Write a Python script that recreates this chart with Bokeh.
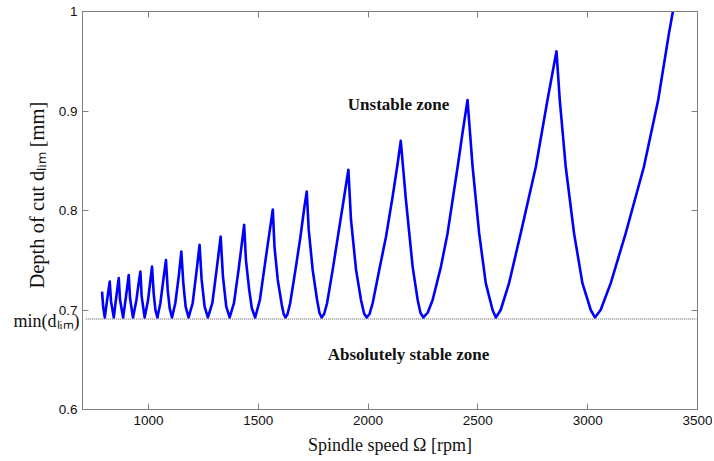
from bokeh.plotting import figure
from bokeh.models import Range1d, LinearAxis, FixedTicker, Label
from bokeh.embed import file_html
from bokeh.resources import INLINE

# Stability lobe curve (spindle speed [rpm], depth of cut [mm])
speed_rpm = [
    789, 794, 801.5, 812, 824,
    830, 842.5, 853, 865,
    871, 885, 897, 910.5,
    916.5, 930, 945.5, 954.5, 963.5,
    969.5, 983, 998.5, 1007.5, 1016.5,
    1024, 1032, 1041, 1054.5, 1068, 1080,
    1088, 1097, 1107.5, 1122.5, 1138, 1150,
    1159, 1169.5, 1183, 1201.5, 1218, 1233,
    1242.5, 1256, 1271, 1291, 1310.5, 1329,
    1339.5, 1354.5, 1370, 1389.5, 1410.5, 1436,
    1444, 1459, 1471, 1486, 1507.5, 1529, 1548.5, 1566.5,
    1574, 1589, 1607.5, 1616, 1624, 1633, 1645.5, 1669.5, 1692.5, 1710.5, 1721,
    1730, 1748, 1768, 1779, 1789, 1800, 1813.5, 1839, 1865, 1889, 1910.5,
    1922.5, 1945.5, 1968, 1982, 1994, 2007, 2021, 2051, 2082, 2112, 2135, 2149,
    2172.5, 2203, 2226, 2239, 2252, 2272, 2294, 2332, 2362, 2385, 2408, 2430, 2453,
    2476, 2506, 2536, 2567, 2582, 2604, 2642, 2695, 2764, 2817, 2858,
    2873, 2900, 2938, 2976, 3014, 3033, 3059, 3105, 3173, 3256, 3321, 3370, 3388,
]
depth_mm = [
    0.7185, 0.7034, 0.6925, 0.710, 0.7285,
    0.7084, 0.6925, 0.7118, 0.732,
    0.710, 0.6925, 0.7118, 0.7352,
    0.7118, 0.6925, 0.7101, 0.7252, 0.7386,
    0.7135, 0.6925, 0.710, 0.7269, 0.7436,
    0.7168, 0.7001, 0.6925, 0.7068, 0.7302, 0.7503,
    0.7202, 0.7017, 0.6925, 0.7068, 0.7336, 0.7587,
    0.7269, 0.7034, 0.6925, 0.7068, 0.7369, 0.7654,
    0.7302, 0.7034, 0.6925, 0.7068, 0.7403, 0.7737,
    0.7336, 0.7034, 0.6925, 0.7068, 0.7403, 0.7855,
    0.7503, 0.7202, 0.7017, 0.6925, 0.710, 0.7436, 0.7738, 0.801,
    0.7637, 0.7302, 0.705, 0.696, 0.6925, 0.6955, 0.7068, 0.7403, 0.7738, 0.804, 0.819,
    0.7805, 0.7403, 0.710, 0.697, 0.6925, 0.696, 0.7068, 0.7403, 0.777, 0.8106, 0.841,
    0.7905, 0.7403, 0.710, 0.6965, 0.6925, 0.696, 0.7068, 0.7403, 0.7738, 0.814, 0.8475, 0.870,
    0.8106, 0.7436, 0.710, 0.697, 0.6925, 0.6975, 0.710, 0.7436, 0.777, 0.8106, 0.844, 0.8776, 0.911,
    0.844, 0.777, 0.727, 0.700, 0.6925, 0.700, 0.727, 0.777, 0.844, 0.911, 0.960,
    0.911, 0.844, 0.777, 0.727, 0.700, 0.6925, 0.700, 0.727, 0.777, 0.844, 0.911, 0.978, 1.0,
]

# min(d_lim) reference level
min_level_speed = [715, 3495]
min_level_depth = [0.691, 0.691]
min_level_tick = [0.6885]
min_level_label = {0.6885: "min(d\u2097\u1d62\u2098)"}

x_ticks = [1000, 1500, 2000, 2500, 3000, 3500]
y_ticks = [0.6, 0.7, 0.8, 0.9, 1.0]
y_tick_labels = {0.6: "0.6", 0.7: "0.7", 0.8: "0.8", 0.9: "0.9", 1.0: "1"}

GRAY = "#808080"
SERIF = "Liberation Serif"
SANS = "Liberation Sans"
NBSP = "\u00a0"

p = figure(width=712, height=459, output_backend="svg", toolbar_location=None,
           x_range=Range1d(700, 3500), y_range=Range1d(0.6, 1.0),
           min_border_left=82, min_border_right=15, min_border_top=11, min_border_bottom=50)
p.grid.visible = False
p.outline_line_color = GRAY
p.outline_line_width = 1
p.background_fill_color = "white"
p.border_fill_color = "white"

for ax, tk in ((p.xaxis[0], x_ticks), (p.yaxis[0], y_ticks)):
    ax.ticker = FixedTicker(ticks=tk)
    ax.axis_line_color = GRAY
    ax.major_tick_line_color = GRAY
    ax.major_tick_in = 6
    ax.major_tick_out = 0
    ax.minor_tick_line_color = None
    ax.major_label_text_font = SANS
    ax.major_label_text_font_size = "13.5px"
    ax.major_label_text_color = "#111111"
    ax.axis_label_text_font = SERIF
    ax.axis_label_text_font_style = "normal"
    ax.axis_label_text_color = "#111111"
p.xaxis[0].major_label_standoff = 6
p.yaxis[0].major_label_standoff = 5
p.yaxis[0].major_label_overrides = y_tick_labels

p.xaxis[0].axis_label = "Spindle speed \u03a9 [rpm]"
p.xaxis[0].axis_label_text_font_size = "18px"
p.xaxis[0].axis_label_standoff = 7
p.yaxis[0].axis_label = NBSP * 6 + "Depth of cut d\u2097\u1d62\u2098 [mm]"
p.yaxis[0].axis_label_text_font_size = "20.5px"
p.yaxis[0].axis_label_standoff = 8

for side, tk in (("above", x_ticks), ("right", y_ticks)):
    ax = LinearAxis(ticker=FixedTicker(ticks=tk), axis_line_color=GRAY,
                    major_tick_line_color=GRAY, major_tick_in=6, major_tick_out=0,
                    minor_tick_line_color=None, major_label_text_font_size="1px",
                    major_label_text_color=None, major_label_standoff=0)
    p.add_layout(ax, side)

# second left axis carrying only the min(d_lim) label (pulled back next to the frame)
min_axis = LinearAxis(ticker=FixedTicker(ticks=min_level_tick), axis_line_color=None,
                      major_tick_line_color=None, minor_tick_line_color=None,
                      major_tick_in=0, major_tick_out=0,
                      major_label_overrides=min_level_label,
                      major_label_text_font=SERIF, major_label_text_font_size="18px",
                      major_label_text_color="#111111", major_label_standoff=-57)
p.add_layout(min_axis, "left")

p.line(min_level_speed, min_level_depth, line_color="#8a8a8a", line_width=1.5, line_dash="1 1")
p.line(speed_rpm, depth_mm, line_color="#0000ff", line_width=2.6, line_join="round")

# zone labels
p.add_layout(Label(x=2139, y=0.907, text="Unstable zone", text_font=SERIF, text_font_style="bold",
                   text_font_size="17px", text_align="center", text_baseline="middle", text_color="#111111"))
p.add_layout(Label(x=2184, y=0.6548, text="Absolutely stable zone", text_font=SERIF, text_font_style="bold",
                   text_font_size="17px", text_align="center", text_baseline="middle", text_color="#111111"))

open("out.html", "w").write(file_html(p, INLINE))
